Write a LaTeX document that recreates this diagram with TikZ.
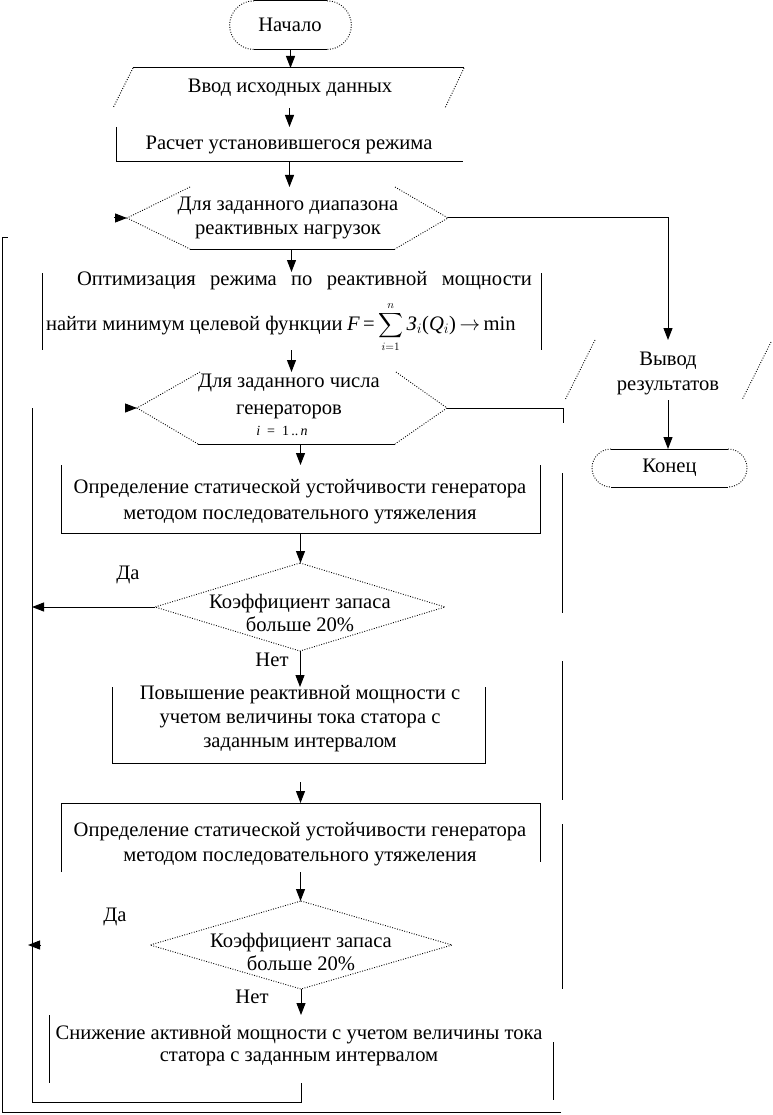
\RequirePackage{fix-cm}
\documentclass[tikz,border=0pt]{standalone}
\usepackage{exscale}
\usepackage{fontspec}
\setmainfont{Liberation Serif}
\usetikzlibrary{arrows.meta,calc}
\begin{document}
\begin{tikzpicture}[x=1pt,y=-1pt,
  line width=1pt,
  every node/.style={inner sep=0pt, outer sep=0pt},
  txt/.style={font=\fontsize{20.6}{25}\selectfont, align=center},
  shp/.style={draw=none, rectangle},
  dots/.style={line width=0.9pt, dash pattern=on 0.9pt off 1.6pt},
  arr/.style={-{Triangle[length=12pt,width=9pt]}},
  lbl/.style={font=\fontsize{20.6}{25}\selectfont}
]
\useasboundingbox[fill=white] (0,0) rectangle (772,1115);

% ---------- shapes (invisible frames) ----------
\node[shp, minimum width=123pt, minimum height=49pt] (start) at (290.5,25) {};
\node[shp, minimum width=331pt, minimum height=40pt] (input) at (289,88) {};
\node[shp, minimum width=347pt, minimum height=35pt] (calc) at (289.5,144.5) {};
\node[shp, minimum width=321pt, minimum height=62pt] (hexa) at (287.5,218) {};
\node[shp, minimum width=499pt, minimum height=78pt] (opt) at (291.5,311) {};
\node[shp, minimum width=310pt, minimum height=72pt] (hexb) at (292,408) {};
\node[shp, minimum width=479pt, minimum height=68pt] (deta) at (300.5,499) {};
\node[shp, minimum width=290pt, minimum height=88pt] (diaa) at (300,607) {};
\node[shp, minimum width=373pt, minimum height=76pt] (inc) at (298.5,725) {};
\node[shp, minimum width=479pt, minimum height=69pt] (detb) at (300.5,837.5) {};
\node[shp, minimum width=302pt, minimum height=88pt] (diab) at (301,945) {};
\node[shp, minimum width=504pt, minimum height=68pt] (dec) at (301,1049) {};
\node[shp, minimum width=150pt, minimum height=60pt] (outp) at (668,370) {};
\node[shp, minimum width=155pt, minimum height=38pt] (fin) at (669.5,468) {};

% ---------- texts ----------
\node[txt] (startT) at (290,25) {Начало};
\node[txt] (inputT) at (290,88) {Ввод исходных данных};
\node[txt] (calcT) at (289,145) {Расчет установившегося режима};
\node[txt, font=\fontsize{20.6}{24}\selectfont] (hexaT) at (288,218) {Для заданного диапазона\\реактивных нагрузок};
\node[txt] (optA) at (304.5,281) {\makebox[455pt][s]{Оптимизация режима по реактивной мощности}};
\node[lbl, anchor=base west] (optB) at (46,330) {найти минимум целевой функции};
\node[lbl, anchor=base west] (optF) at (347,330) {\textit{F}\,=\,{\fontsize{16}{18}\selectfont$\displaystyle\sum_{i=1}^{n}$}\,\textit{З}$_{i}$(\textit{Q}$_{i}$)\,$\to$\,min};
\node[txt, font=\fontsize{20.6}{27}\selectfont] (hexbT) at (289,396) {Для заданного числа\\генераторов};
\node[font=\fontsize{14}{16}\selectfont] (hexbI) at (282,431) {\textit{i}\ \ =\ \ 1\,..\,\textit{n}};
\node[txt, font=\fontsize{20.6}{26}\selectfont] (detaT) at (300,502) {Определение статической устойчивости генератора\\методом последовательного утяжеления};
\node[txt, font=\fontsize{20.6}{23}\selectfont] (diaaT) at (300,612.5) {Коэффициент запаса\\больше 20\%};
\node[txt, font=\fontsize{20.6}{24}\selectfont] (incT) at (300,719) {Повышение реактивной мощности с\\учетом величины тока статора с\\заданным интервалом};
\node[txt, font=\fontsize{20.6}{25}\selectfont] (detbT) at (300,844.5) {Определение статической устойчивости генератора\\методом последовательного утяжеления};
\node[txt, font=\fontsize{20.6}{23}\selectfont] (diabT) at (301,951.5) {Коэффициент запаса\\больше 20\%};
\node[txt, font=\fontsize{20.6}{22}\selectfont] (decT) at (299,1046) {Снижение активной мощности с учетом величины тока\\статора с заданным интервалом};
\node[txt] (outpT) at (668,373) {Вывод\\результатов};
\node[txt] (finT) at (669.5,468) {Конец};
\node[lbl] (yesA) at (128,575) {Да};
\node[lbl] (noA) at (272,660) {Нет};
\node[lbl] (yesB) at (115,917) {Да};
\node[lbl] (noB) at (252,997) {Нет};

% ---------- outlines ----------
% start terminator
\draw (254,0.8) -- (327,0.8);
\draw (254,49.5) -- (327,49.5);
\draw[dots] (254,0.8) arc[start angle=90,end angle=270,radius=24.35pt];
\draw[dots] (327,0.8) arc[start angle=90,end angle=-90,radius=24.35pt];
% input parallelogram
\draw (133,68) -- (464,68);
\draw[dots] (133,68) -- (113,108);
\draw[dots] (464,68) -- (445,108);
% calc box
\draw (116,127) -- (116,162) -- (463,162);
% hexagon a
\draw[dots] (190,187) -- (127,218) -- (190,249);
\draw[dots] (395,187) -- (448,218) -- (395,249);
\draw (190,249) -- (395,249);
% optimisation box
\draw (42,273) -- (42,350);
\draw (541,273) -- (541,350);
% hexagon b
\draw[dots] (200,372) -- (137,408) -- (198,444);
\draw[dots] (396,372) -- (447,408) -- (395,444);
\draw (198,444) -- (395,444);
% det a
\draw (61,465) -- (61,533) -- (540,533) -- (540,465);
% diamond a
\draw[dots] (diaa.north) -- (diaa.east) -- (diaa.south) -- (diaa.west) -- cycle;
% increase box
\draw (112,687) -- (112,763) -- (485,763) -- (485,687);
% det b
\draw (61,872) -- (61,803) -- (540,803) -- (540,862);
% diamond b
\draw[dots] (diab.north) -- (diab.east) -- (diab.south) -- (diab.west) -- cycle;
% decrease box
\draw (49,1015) -- (49,1083);
\draw (553,1042) -- (553,1100);
% output parallelogram
\draw[dots] (595,340) -- (565,400);
\draw[dots] (771,342) -- (742,400);
% end terminator
\draw (611,449) -- (728,449);
\draw (611,487) -- (728,487);
\draw[dots] (611,449) arc[start angle=90,end angle=270,radius=19pt];
\draw[dots] (728,449) arc[start angle=90,end angle=-90,radius=19pt];

% ---------- connectors ----------
\draw[arr] (start.south) -- (start.south |- input.north);
\draw[arr] (input.south -| calc.north) -- (calc.north);
\draw[arr] (calc.south) -- (calc.south |- hexa.north);
\draw[arr] (hexa.south -| opt.north) -- (opt.north);
\draw[arr] (opt.south) -- (opt.south |- hexb.north);
\draw[arr] (hexb.south -| deta.north) -- (deta.north);
\draw[arr] (deta.south) -- (deta.south |- diaa.north);
\draw[arr] (diaa.south) -- (diaa.south |- inc.north);
\draw[arr, shorten <=19pt] (inc.south -| detb.north) -- (detb.north);
\draw[arr] (detb.south) -- (detb.south |- diab.north);
\draw[arr] (diab.south) -- (diab.south |- dec.north);
\draw[arr] (hexa.east) -| (outp.north);
\draw[arr] (outp.south) -- (outp.south |- fin.north);

% inner loop
\coordinate (ib) at (32,1102);
\coordinate (it) at (32,408);
\draw (dec.south) |- (ib) -- (it);
\draw[arr] ([xshift=-12pt]hexb.west) -- (hexb.west);
\draw[arr] (diaa.west) -- (diaa.west -| it);
\coordinate (dbtip) at (28,945);
\draw[arr, shorten <=110pt] (diab.west) -- (dbtip);

% outer loop (exit of inner loop)
\coordinate (ra) at (563,423);
\draw (hexb.east) -| (ra);
\coordinate (rb1) at (562,473); \coordinate (rb2) at (562,613);
\coordinate (rc1) at (562,661); \coordinate (rc2) at (562,800);
\coordinate (rd1) at (562,824); \coordinate (rd2) at (562,989);
\draw (rb1) -- (rb2);
\draw (rc1) -- (rc2);
\draw (rd1) -- (rd2);
\coordinate (ob) at (561,1112.5);
\coordinate (ol) at (2,1112.5);
\coordinate (ot) at (2,238);
\draw (ob) -- (ol) -- (ot) -- ++(6,0);
\draw[arr] ([xshift=-13pt]hexa.west) -- (hexa.west);
\end{tikzpicture}
\end{document}
